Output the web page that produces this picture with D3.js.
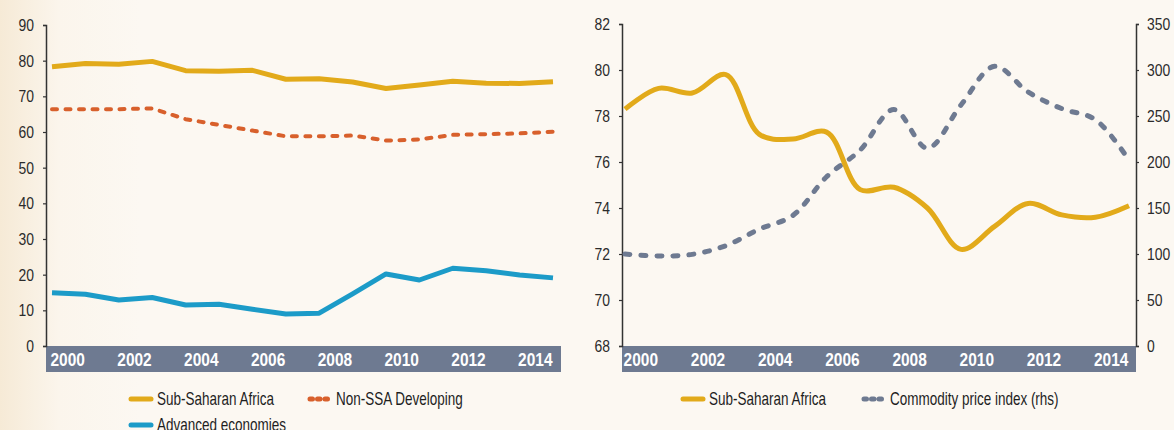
<!DOCTYPE html>
<html lang="en">
<head>
<meta charset="UTF-8">
<title>SSA share charts</title>
<script src="https://d3js.org/d3.v7.min.js"></script>
<style>
    body { margin: 0; background: #fcf8f2; }
    svg { display: block; }
    text { font-family: "Liberation Sans", Arial, sans-serif; }
    .tick text { fill: #2b2b2b; font-size: 17px; }
    .year { fill: #fff; font-size: 18px; font-weight: bold; }
    .legend { fill: #1e1e1e; font-size: 18px; }
</style>
</head>
<body>
<svg width="1174" height="430"></svg>
<script>
// data
const years = d3.range(2000, 2016);
const yearLabels = [2000, 2002, 2004, 2006, 2008, 2010, 2012, 2014];
const ssa = [78.3, 79.2, 79.0, 79.8, 77.2, 77.0, 77.3, 74.8, 74.9, 74.0, 72.2, 73.2, 74.2, 73.7, 73.6, 74.1];
const nonSsa = [66.4, 66.4, 66.4, 66.6, 63.6, 62.0, 60.4, 58.8, 58.8, 59.0, 57.6, 57.9, 59.2, 59.4, 59.6, 60.1];
const advanced = [14.9, 14.5, 12.9, 13.6, 11.5, 11.7, 10.3, 9.0, 9.2, 14.6, 20.2, 18.5, 21.8, 21.1, 19.9, 19.1];
const commodity = [100, 97.8, 99.6, 109, 127, 142, 184, 213, 257, 215, 262, 304, 276, 258, 246, 202];
const leftTicks = d3.range(0, 91, 10);
const rightTicksL = d3.range(68, 83, 2);
const rightTicksR = d3.range(0, 351, 50);

const colors = { ssa: "#e2aa1a", nonSsa: "#d8602c", adv: "#1c9bc8", comm: "#6e7a91", band: "#6e7a91" };

const svg = d3.select("svg");

// background with warmer left edge
const defs = svg.append("defs");
const grad = defs.append("linearGradient").attr("id", "bg").attr("x1", 0).attr("x2", 1);
grad.append("stop").attr("offset", "0").attr("stop-color", "#f6ead6");
grad.append("stop").attr("offset", "0.05").attr("stop-color", "#fbf5ec");
grad.append("stop").attr("offset", "0.12").attr("stop-color", "#fcf8f2");
grad.append("stop").attr("offset", "1").attr("stop-color", "#fcf8f2");
svg.append("rect").attr("width", 1174).attr("height", 430).attr("fill", "url(#bg)");

// no condensed font installed, so squeeze text horizontally around its anchor
function condense(sel, sx) {
    sel.each(function() {
        const t = d3.select(this);
        const x = +t.attr("x") || 0;
        const y = +t.attr("y") || 0;
        t.attr("x", 0).attr("y", 0)
            .attr("transform", `translate(${x},${y}) scale(${sx},1)`);
    });
}

function yearBand(g, x, x0, x1) {
    g.append("rect")
        .attr("x", x0).attr("y", 346).attr("width", x1 - x0).attr("height", 26)
        .attr("fill", colors.band);
    g.selectAll(".year").data(yearLabels).join("text")
        .attr("class", "year")
        .attr("x", d => x(d + 0.47))
        .attr("y", 366)
        .attr("text-anchor", "middle")
        .text(d => d)
        .call(condense, 0.86);
}

function styleAxis(g) {
    g.select(".domain").attr("stroke", "#333").attr("stroke-width", 1.5);
    g.selectAll(".tick line").attr("stroke", "#333").attr("stroke-width", 1.2);
    g.selectAll(".tick text").call(condense, 0.82);
}

function drawLine(g, x, y, vals, color, width, dash, curve) {
    g.append("path")
        .datum(vals)
        .attr("fill", "none")
        .attr("stroke", color)
        .attr("stroke-width", width)
        .attr("stroke-linecap", dash ? "round" : "butt")
        .attr("stroke-linejoin", "round")
        .attr("stroke-dasharray", dash)
        .attr("d", d3.line().x((d, i) => x(years[i])).y(d => y(d)).curve(curve));
}

function legendItem(g, x, y, color, dash, label) {
    g.append("line")
        .attr("x1", x).attr("x2", x + 20).attr("y1", y).attr("y2", y)
        .attr("stroke", color).attr("stroke-width", 5)
        .attr("stroke-linecap", "round")
        .attr("stroke-dasharray", dash);
    g.append("text").attr("class", "legend")
        .attr("x", x + 26).attr("y", y + 6)
        .text(label)
        .call(condense, 0.75);
}

// ---- left chart
const left = svg.append("g");
const xL = d3.scaleLinear().domain([2000, 2015]).range([52, 553]);
const yL = d3.scaleLinear().domain([0, 90]).range([346, 25]);

yearBand(left, xL, 46, 561);
left.append("g")
    .attr("transform", "translate(46,0)")
    .call(d3.axisLeft(yL).tickValues(leftTicks).tickSize(3).tickPadding(9))
    .call(styleAxis);

drawLine(left, xL, yL, ssa, colors.ssa, 5, null, d3.curveLinear);
drawLine(left, xL, yL, nonSsa, colors.nonSsa, 4, "5,8.5", d3.curveLinear);
drawLine(left, xL, yL, advanced, colors.adv, 5, null, d3.curveLinear);

legendItem(left, 131, 399, colors.ssa, null, "Sub-Saharan Africa");
legendItem(left, 310, 399, colors.nonSsa, "2.5,5", "Non-SSA Developing");
legendItem(left, 131, 425, colors.adv, null, "Advanced economies");

// ---- right chart
const right = svg.append("g");
const xR = d3.scaleLinear().domain([2000, 2015]).range([625, 1129]);
const yR = d3.scaleLinear().domain([68, 82]).range([346, 24]);
const yC = d3.scaleLinear().domain([0, 350]).range([346, 24]);

yearBand(right, xR, 622, 1136);
right.append("g")
    .attr("transform", "translate(622,0)")
    .call(d3.axisLeft(yR).tickValues(rightTicksL).tickSize(3).tickPadding(9))
    .call(styleAxis);
right.append("g")
    .attr("transform", "translate(1136,0)")
    .call(d3.axisRight(yC).tickValues(rightTicksR).tickSize(3).tickPadding(8))
    .call(styleAxis);

const smooth = d3.curveCatmullRom.alpha(0.5);
drawLine(right, xR, yC, commodity, colors.comm, 5, "5,11", smooth);
drawLine(right, xR, yR, ssa, colors.ssa, 5, null, smooth);

legendItem(right, 683, 399, colors.ssa, null, "Sub-Saharan Africa");
legendItem(right, 864, 399, colors.comm, "2.5,5", "Commodity price index (rhs)");
</script>
</body>
</html>
